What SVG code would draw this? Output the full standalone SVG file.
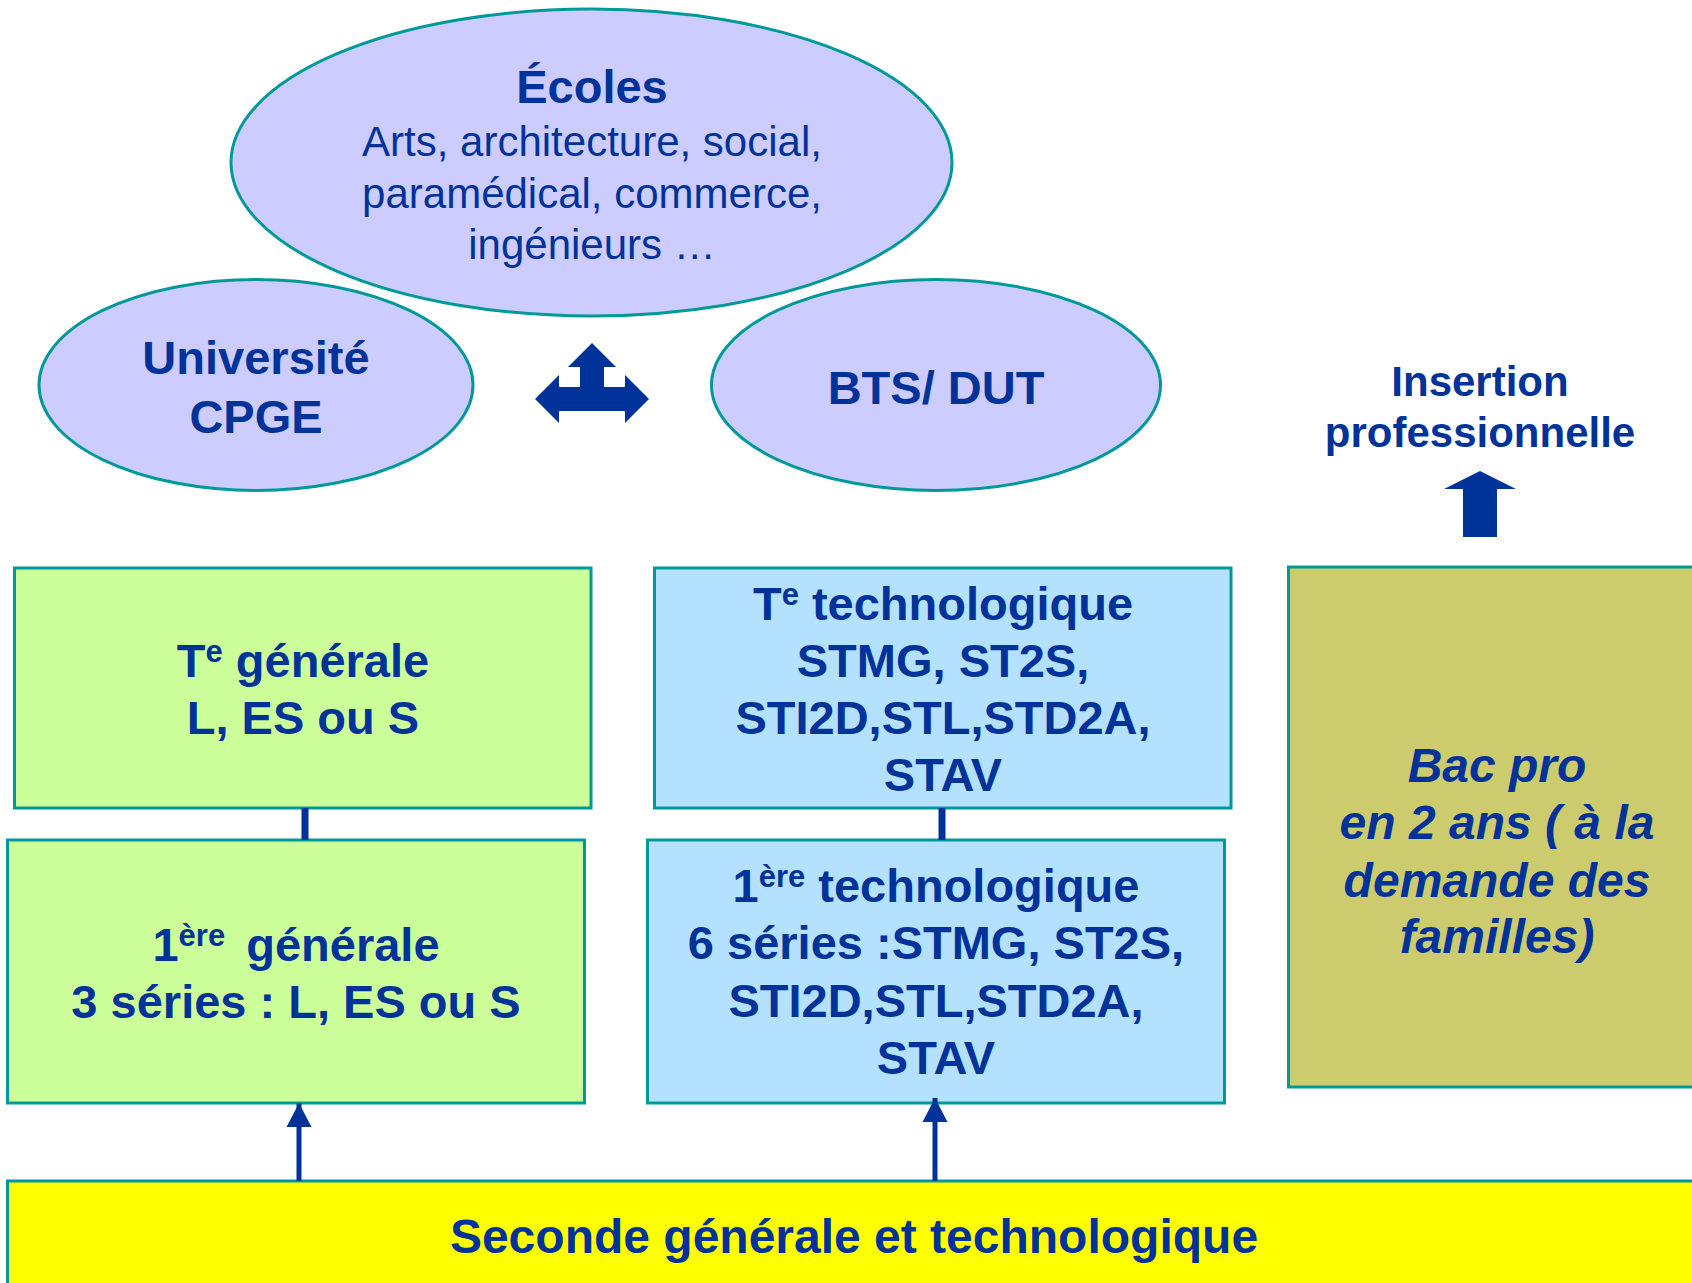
<svg xmlns="http://www.w3.org/2000/svg" width="1692" height="1283" viewBox="0 0 1692 1283">
<style>
.t{font-family:"Liberation Sans",Arial,sans-serif;fill:#003399;text-anchor:middle}
.b{font-weight:bold;font-size:47px}
.r{font-size:42px}
.ell{fill:#CCCCFF;stroke:#009999;stroke-width:3}
.box{stroke:#009999;stroke-width:3}
.shape{fill:#003399}
</style>
<defs>
<marker id="ah" markerUnits="userSpaceOnUse" markerWidth="26" markerHeight="26" viewBox="0 0 26 26" refX="24" refY="13" orient="auto">
<path d="M0,0.5 L24,13 L0,25.5 Z" fill="#003399"/>
</marker>
</defs>
<rect width="1692" height="1283" fill="#FFFFFF"/>

<g id="universite">
<ellipse class="ell" cx="256" cy="385" rx="217" ry="105.5"/>
<text class="t b" x="256" y="374">Université</text>
<text class="t b" x="256" y="433">CPGE</text>
</g>

<g id="bts">
<ellipse class="ell" cx="936" cy="385" rx="224.5" ry="105.5"/>
<text class="t b" x="936" y="404">BTS/ DUT</text>
</g>

<g id="ecoles">
<ellipse class="ell" cx="591.5" cy="162.5" rx="360.5" ry="153.5"/>
<text class="t b" x="592" y="103">Écoles</text>
<text class="t r" x="592" y="156">Arts, architecture, social,</text>
<text class="t r" x="592" y="208">paramédical, commerce,</text>
<text class="t r" x="592" y="259">ingénieurs …</text>
</g>

<g id="cross-arrow">
<path class="shape" d="M592,343 L616,367 L604,367 L604,387 L625,387 L625,375 L649,399 L625,423 L625,411 L559,411 L559,423 L535,399 L559,375 L559,387 L580,387 L580,367 L568,367 Z"/>
</g>

<g id="insertion">
<text class="t" style="font-weight:bold;font-size:42px" x="1480" y="396">Insertion</text>
<text class="t" style="font-weight:bold;font-size:42px" x="1480" y="447">professionnelle</text>
<path class="shape" d="M1480,471 L1516,489 L1497,489 L1497,537 L1463,537 L1463,489 L1444,489 Z"/>
</g>

<g id="te-generale">
<rect class="box" x="14.5" y="568" width="576.5" height="240" fill="#CCFF99"/>
<text class="t b" x="303" y="677">T<tspan font-size="31" dy="-15">e</tspan><tspan dy="15"> générale</tspan></text>
<text class="t b" x="303" y="734">L, ES ou S</text>
</g>

<g id="te-techno">
<rect class="box" x="654.5" y="568" width="576.5" height="240" fill="#B3E1FF"/>
<text class="t b" x="943" y="620">T<tspan font-size="31" dy="-15">e</tspan><tspan dy="15"> technologique</tspan></text>
<text class="t b" x="943" y="677">STMG, ST2S,</text>
<text class="t b" x="943" y="734">STI2D,STL,STD2A,</text>
<text class="t b" x="943" y="791">STAV</text>
</g>

<g id="premiere-generale">
<rect class="box" x="7.5" y="840" width="577" height="263" fill="#CCFF99"/>
<text class="t b" x="296" y="961">1<tspan font-size="31" dy="-15">ère</tspan><tspan dy="15" dx="8"> générale</tspan></text>
<text class="t b" x="296" y="1018">3 séries : L, ES ou S</text>
</g>

<g id="premiere-techno">
<rect class="box" x="647.5" y="840" width="577" height="263" fill="#B3E1FF"/>
<text class="t b" x="936" y="902">1<tspan font-size="31" dy="-15">ère</tspan><tspan dy="15"> technologique</tspan></text>
<text class="t b" x="936" y="959">6 séries :STMG, ST2S,</text>
<text class="t b" x="936" y="1017">STI2D,STL,STD2A,</text>
<text class="t b" x="936" y="1074">STAV</text>
</g>

<g id="bac-pro">
<rect class="box" x="1288.5" y="567" width="420" height="520" fill="#CCCC6E"/>
<text class="t b" style="font-style:italic;font-size:48px" x="1497" y="782">Bac pro</text>
<text class="t b" style="font-style:italic;font-size:48px" x="1497" y="839">en 2 ans ( à la</text>
<text class="t b" style="font-style:italic;font-size:48px" x="1497" y="897">demande des</text>
<text class="t b" style="font-style:italic;font-size:48px" x="1497" y="953">familles)</text>
</g>

<g id="seconde">
<rect class="box" x="7.5" y="1181" width="1700" height="130" fill="#FFFF00"/>
<text class="t b" style="font-size:48px" x="854" y="1253">Seconde générale et technologique</text>
</g>

<g id="connectors" stroke="#003399" fill="none">
<line x1="305" y1="808" x2="305" y2="840" stroke-width="7"/>
<line x1="942" y1="808" x2="942" y2="840" stroke-width="7"/>
<line x1="299" y1="1181" x2="299" y2="1103" stroke-width="5" marker-end="url(#ah)"/>
<line x1="935" y1="1181" x2="935" y2="1098" stroke-width="5" marker-end="url(#ah)"/>
</g>
</svg>
